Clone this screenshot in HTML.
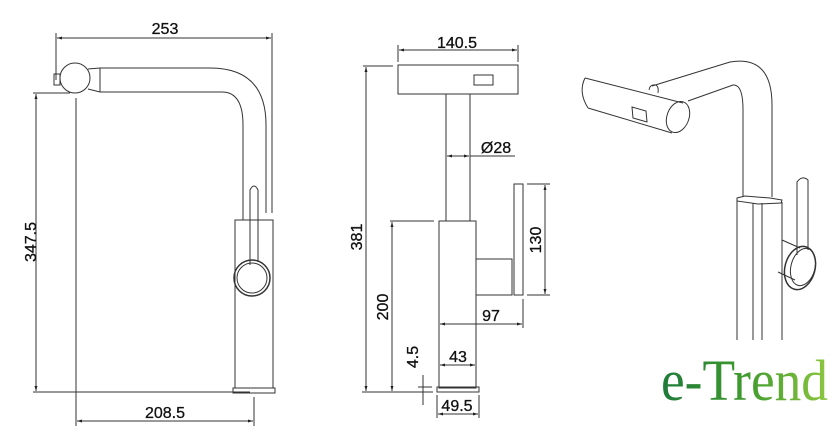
<!DOCTYPE html>
<html><head><meta charset="utf-8"><style>
html,body{margin:0;padding:0;background:#fff;}
svg{display:block;}
text{font-family:"Liberation Sans",Arial,sans-serif;font-size:16px;fill:#111;stroke:#111;stroke-width:0.3;}
</style></head><body>
<svg width="840" height="447" viewBox="0 0 840 447" xmlns="http://www.w3.org/2000/svg">
<defs>
<linearGradient id="g" x1="0" x2="1" y1="0" y2="0">
<stop offset="0" stop-color="#1f7a3a"/><stop offset="0.5" stop-color="#3f9a2e"/><stop offset="1" stop-color="#8cc63f"/>
</linearGradient>
<marker id="a" viewBox="0 0 10 10" refX="10" refY="5" markerWidth="7" markerHeight="5" orient="auto-start-reverse"><path d="M0,2 L10,5 L0,8 z" fill="#222"/></marker>
</defs>
<g stroke="#333" stroke-width="1" fill="none">
<!-- LEFT VIEW -->
<line x1="56" y1="33" x2="56" y2="80"/>
<line x1="272" y1="33" x2="272" y2="213"/>
<line x1="57" y1="38" x2="271" y2="38" marker-start="url(#a)" marker-end="url(#a)"/>
<rect x="54" y="74" width="6" height="11"/>
<circle cx="75" cy="78" r="15"/>
<path d="M100,68 L210,68 Q266,68 266,125 L266,213"/>
<path d="M100,92 L222,92 Q243,92 243,125 L243,220"/>
<line x1="100" y1="68" x2="100" y2="92"/>
<path d="M88,69 L100,68 M88,89 L100,92"/>
<rect x="235" y="220" width="38" height="168"/>
<rect x="233" y="388" width="42" height="5"/>
<path d="M250,265 L250,190 Q254,182 258,190 L258,262"/>
<circle cx="252" cy="278" r="18" stroke-width="1.5"/>
<circle cx="252" cy="278" r="15"/>
<line x1="33" y1="93" x2="70" y2="93"/>
<line x1="33" y1="392" x2="250" y2="392"/>
<line x1="36" y1="94" x2="36" y2="391" marker-start="url(#a)" marker-end="url(#a)"/>
<line x1="76" y1="98" x2="76" y2="426"/>
<line x1="254" y1="397" x2="254" y2="426"/>
<line x1="77" y1="421" x2="253" y2="421" marker-start="url(#a)" marker-end="url(#a)"/>
<!-- MIDDLE VIEW -->
<line x1="398" y1="45" x2="398" y2="62"/>
<line x1="518" y1="45" x2="518" y2="62"/>
<line x1="399" y1="50" x2="517" y2="50" marker-start="url(#a)" marker-end="url(#a)"/>
<rect x="398" y="65" width="120" height="29"/>
<rect x="474" y="75" width="19" height="10"/>
<line x1="446" y1="94" x2="446" y2="221"/>
<line x1="470" y1="94" x2="470" y2="221"/>
<line x1="447" y1="156" x2="469" y2="156" marker-start="url(#a)" marker-end="url(#a)"/>
<line x1="470" y1="156" x2="515" y2="156"/>
<rect x="439" y="221" width="37" height="167"/>
<path d="M476,259 L512,259 L512,295 L476,295"/>
<rect x="514" y="184" width="9" height="111"/>
<line x1="527" y1="184" x2="550" y2="184"/>
<line x1="527" y1="295" x2="550" y2="295"/>
<line x1="545" y1="185" x2="545" y2="294" marker-start="url(#a)" marker-end="url(#a)"/>
<line x1="523" y1="299" x2="523" y2="328"/>
<line x1="440" y1="324" x2="522" y2="324" marker-start="url(#a)" marker-end="url(#a)"/>
<line x1="440" y1="365" x2="475" y2="365" marker-start="url(#a)" marker-end="url(#a)"/>
<rect x="437" y="387" width="42" height="5"/>
<line x1="437" y1="395" x2="437" y2="418"/>
<line x1="479" y1="395" x2="479" y2="418"/>
<line x1="438" y1="414" x2="478" y2="414" marker-start="url(#a)" marker-end="url(#a)"/>
<line x1="390" y1="221" x2="434" y2="221"/>
<line x1="392" y1="222" x2="392" y2="391" marker-start="url(#a)" marker-end="url(#a)"/>
<line x1="363" y1="66" x2="393" y2="66"/>
<line x1="362" y1="392" x2="433" y2="392"/>
<line x1="366" y1="67" x2="366" y2="391" marker-start="url(#a)" marker-end="url(#a)"/>
<line x1="418" y1="387" x2="432" y2="387"/>
<line x1="423" y1="375" x2="423" y2="405"/>
<!-- RIGHT ISOMETRIC -->
<path d="M585,78 L683,103"/>
<path d="M588,108 L672,133"/>
<path d="M585,78 Q578,92 588,108"/>
<ellipse cx="678" cy="117" rx="11" ry="16" transform="rotate(20 678 117)"/>
<path d="M632,107 L646,111 L647,122 L633,118 Z"/>
<path d="M652,86 L730,62 Q772,55 772,105 L772,197"/>
<path d="M688,101 L733,85 Q743,84 743,110 L743,197"/>
<path d="M649,90 Q650,84 656,85 Q659,87 658,93"/>
<path d="M737,198 L745,196 L770,198 L782,200 L781,203 L758,204 L737,201 Z"/>
<line x1="737" y1="200" x2="737" y2="340"/>
<line x1="782" y1="202" x2="782" y2="340"/>
<line x1="753" y1="203" x2="753" y2="340"/>
<line x1="762" y1="203" x2="762" y2="340"/>
<path d="M782,240 L800,248 M778,272 L795,280"/>
<path d="M797,255 L797,182 Q802,175 808,180 L808,250"/>
<ellipse cx="800" cy="268" rx="15" ry="22" transform="rotate(15 800 268)" stroke-width="1.5"/>
<ellipse cx="803" cy="267" rx="12" ry="19" transform="rotate(15 803 267)"/>
</g>
<text x="165" y="34" text-anchor="middle">253</text>
<text x="165" y="418" text-anchor="middle">208.5</text>
<text transform="translate(36,242) rotate(-90)" text-anchor="middle">347.5</text>
<text x="457" y="48" text-anchor="middle">140.5</text>
<text x="496" y="153" text-anchor="middle">Ø28</text>
<text transform="translate(541,240) rotate(-90)" text-anchor="middle">130</text>
<text x="491" y="321" text-anchor="middle">97</text>
<text x="458" y="362" text-anchor="middle">43</text>
<text x="457" y="411" text-anchor="middle">49.5</text>
<text transform="translate(388,307) rotate(-90)" text-anchor="middle">200</text>
<text transform="translate(362,237) rotate(-90)" text-anchor="middle">381</text>
<text transform="translate(418,357) rotate(-90)" text-anchor="middle">4.5</text>
<text x="661" y="400" textLength="167" lengthAdjust="spacingAndGlyphs" style="font-family:'Liberation Serif',serif;font-size:58px;fill:url(#g);stroke:none">e-Trend</text>
</svg>
</body></html>
